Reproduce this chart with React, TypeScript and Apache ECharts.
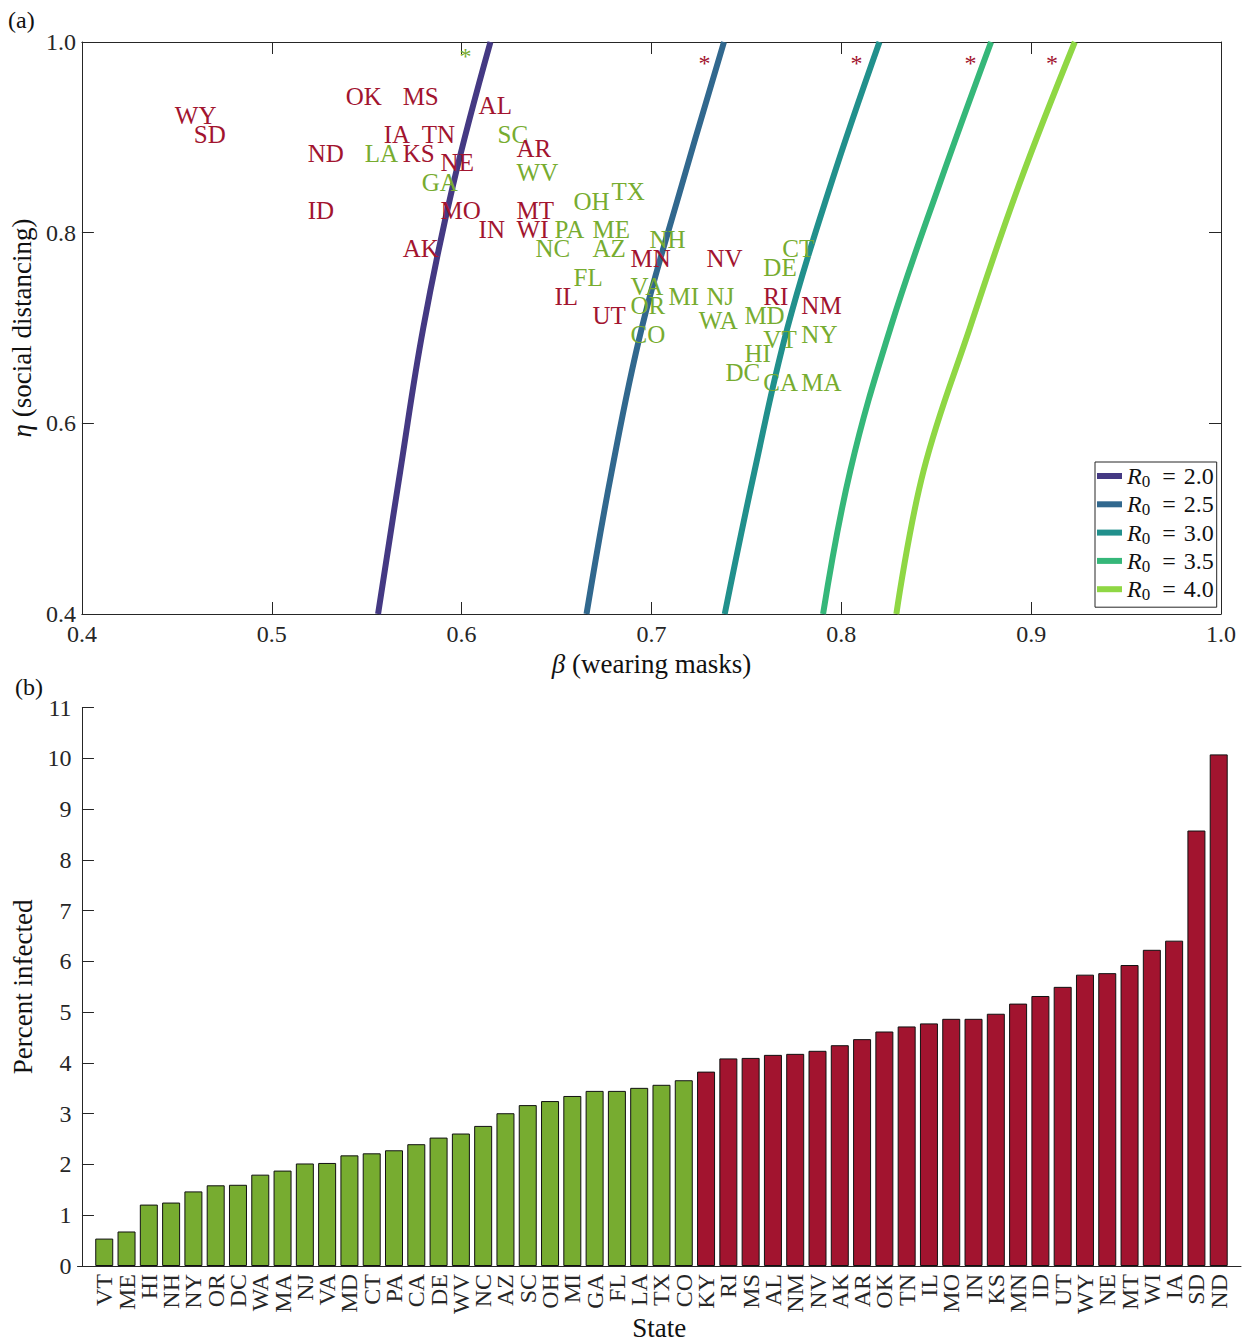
import React, { useEffect, useRef } from 'react';
import * as echarts from 'echarts';

const FONT = '"Liberation Serif", "Times New Roman", serif';
const GREEN = '#77AC30';
const RED = '#A2142F';
const AXIS = '#262626';

// ---- Panel (b): percent infected, sorted ----
const lowStates = ['VT','ME','HI','NH','NY','OR','DC','WA','MA','NJ','VA','MD','CT','PA','CA','DE','WV','NC','AZ','SC','OH','MI','GA','FL','LA','TX','CO'];
const lowInfected = [0.54,0.68,1.21,1.25,1.47,1.59,1.60,1.80,1.88,2.02,2.03,2.18,2.22,2.28,2.40,2.53,2.61,2.76,3.01,3.17,3.25,3.35,3.45,3.45,3.51,3.57,3.66];
const highStates = ['KY','RI','MS','AL','NM','NV','AK','AR','OK','TN','IL','MO','IN','KS','MN','ID','UT','WY','NE','MT','WI','IA','SD','ND'];
const highInfected = [3.83,4.09,4.10,4.16,4.18,4.24,4.35,4.47,4.62,4.72,4.78,4.87,4.87,4.97,5.17,5.32,5.50,5.74,5.77,5.93,6.23,6.41,8.58,10.08];

// ---- Panel (a): state positions (beta = masks, eta = social distancing) ----
const labelStates = ['WY','SD','OK','MS','AL','IA','TN','SC','AR','ND','LA','KS','NE','WV','GA','TX','OH','ID','MO','MT','IN','WI','PA','ME','NH','AK','NC','AZ','CT','MN','NV','DE','FL','VA','IL','MI','NJ','RI','OR','NM','UT','MD','WA','CO','NY','VT','HI','DC','CA','MA'];
const labelBeta = [0.45,0.46,0.54,0.57,0.61,0.56,0.58,0.62,0.63,0.52,0.55,0.57,0.59,0.63,0.58,0.68,0.66,0.52,0.59,0.63,0.61,0.63,0.65,0.67,0.70,0.57,0.64,0.67,0.77,0.69,0.73,0.76,0.66,0.69,0.65,0.71,0.73,0.76,0.69,0.78,0.67,0.75,0.726,0.69,0.78,0.76,0.75,0.74,0.76,0.78];
const labelEta = [0.92,0.90,0.94,0.94,0.93,0.90,0.90,0.90,0.885,0.88,0.88,0.88,0.87,0.86,0.85,0.84,0.83,0.82,0.82,0.82,0.80,0.80,0.80,0.80,0.79,0.78,0.78,0.78,0.78,0.77,0.77,0.76,0.75,0.74,0.73,0.73,0.73,0.73,0.72,0.72,0.71,0.71,0.705,0.69,0.69,0.685,0.67,0.65,0.64,0.64];

// asterisk markers near the top edge
const starBeta = [0.602, 0.728, 0.808, 0.868, 0.911];
const starEta = [0.986, 0.979, 0.979, 0.979, 0.979];
const starIsLow = [true, false, false, false, false];

// ---- R0 threshold curves: [beta, eta] ----
const r0Names = ['R0 = 2.0', 'R0 = 2.5', 'R0 = 3.0', 'R0 = 3.5', 'R0 = 4.0'];
const r0Colors = ['#443983', '#31688E', '#21908C', '#35B779', '#8FD744'];
const curveR20 = [[0.6152,1.0],[0.5955,0.85],[0.5798,0.70],[0.5677,0.55],[0.5560,0.40]];
const curveR25 = [[0.7382,1.0],[0.7160,0.85],[0.6949,0.70],[0.6791,0.55],[0.6658,0.40]];
const curveR30 = [[0.8201,1.0],[0.7944,0.85],[0.7716,0.70],[0.7543,0.55],[0.7386,0.40]];
const curveR35 = [[0.8789,1.0],[0.8516,0.85],[0.8259,0.70],[0.8047,0.55],[0.7904,0.40]];
const curveR40 = [[0.9230,1.0],[0.8936,0.85],[0.8677,0.70],[0.8433,0.55],[0.8290,0.40]];
const curves = [curveR20, curveR25, curveR30, curveR35, curveR40];

const App: React.FC = () => {
  const ref = useRef<HTMLDivElement>(null);

  useEffect(() => {
    document.body.style.margin = '0';
    if (!ref.current) return;
    const chart = echarts.init(ref.current, undefined, { renderer: 'svg' });

    const lowSet = new Set(lowStates);
    const allStates = [...lowStates, ...highStates];
    const barData = [
      ...lowInfected.map((v, i) => ({ value: [i + 1, v], itemStyle: { color: GREEN } })),
      ...highInfected.map((v, i) => ({ value: [lowStates.length + i + 1, v], itemStyle: { color: RED } })),
    ];
    const positions = allStates.map((_, i) => i + 1);

    const tickLabel = { fontFamily: FONT, fontSize: 24, color: AXIS };
    const nameStyle = {
      fontFamily: FONT, fontSize: 27, color: '#111',
      rich: { i: { fontFamily: FONT, fontSize: 27, fontStyle: 'italic', color: '#111' } },
    };
    const axLine = { show: true, lineStyle: { color: AXIS, width: 1 } };
    const tickIn = { show: true, inside: true, length: 12, lineStyle: { color: AXIS, width: 1 } };

    const lineSeries = curves.map((c, k) => ({
      type: 'line', name: r0Names[k], xAxisIndex: 0, yAxisIndex: 0,
      data: c, smooth: 0.4, showSymbol: false, symbol: 'none',
      lineStyle: { width: 6, color: r0Colors[k] }, itemStyle: { color: r0Colors[k] },
      z: 2,
    }));

    const makeLabelSeries = (low: boolean) => ({
      type: 'scatter', xAxisIndex: 0, yAxisIndex: 0, symbolSize: 0, z: 5,
      itemStyle: { opacity: 1 },
      data: labelStates
        .map((s, i) => ({ s, i }))
        .filter(({ s }) => lowSet.has(s) === low)
        .map(({ s, i }) => ({ value: [labelBeta[i], labelEta[i]], name: s })),
      label: {
        show: true, position: 'right', distance: 0, offset: [-2, -3],
        formatter: (p: any) => p.name,
        fontFamily: FONT, fontSize: 25, color: low ? GREEN : RED,
      },
      emphasis: { disabled: true },
    });

    const starSeries = {
      type: 'scatter', xAxisIndex: 0, yAxisIndex: 0, symbolSize: 0, z: 5,
      itemStyle: { opacity: 1 },
      data: starBeta.map((b, i) => ({
        value: [b, starEta[i]],
        label: { color: starIsLow[i] ? GREEN : RED },
      })),
      label: {
        show: true, position: 'inside', formatter: '*', align: 'center', verticalAlign: 'middle',
        offset: [0, 1], fontFamily: FONT, fontSize: 24,
      },
      emphasis: { disabled: true },
    };

    // state names under the bars (rotated), anchored on the x axis of panel (b)
    const stateLabelSeries = {
      type: 'scatter', xAxisIndex: 2, yAxisIndex: 2, symbolSize: 0, z: 5, clip: false,
      itemStyle: { opacity: 1 },
      data: positions.map((p, i) => ({ value: [p, 0], name: allStates[i] })),
      label: {
        show: true, position: 'bottom', distance: 8, rotate: 90,
        align: 'right', verticalAlign: 'middle',
        formatter: (p: any) => p.name,
        ...tickLabel,
      },
      emphasis: { disabled: true },
    };

    chart.setOption({
      animation: false,
      backgroundColor: '#fff',
      grid: [
        { left: 77.5, top: 42, width: 1143.5, height: 572 },
        { left: 77.5, top: 707.7, width: 1163.5, height: 558.3 },
      ],
      legend: {
        data: r0Names, orient: 'vertical', left: 1095, top: 462,
        icon: 'rect', itemWidth: 25, itemHeight: 6, itemGap: 2.3,
        borderColor: AXIS, borderWidth: 1, backgroundColor: '#fff',
        padding: [2, 3, 4, 2],
        formatter: (name: string) => `{r|R}{s|0}{t|\u2002=\u2004${name.split('= ')[1]}}`,
        textStyle: {
          fontFamily: FONT, fontSize: 24, color: '#111',
          rich: {
            r: { fontFamily: FONT, fontSize: 24, fontStyle: 'italic', lineHeight: 28, verticalAlign: 'middle' },
            s: { fontFamily: FONT, fontSize: 17, lineHeight: 28, verticalAlign: 'bottom' },
            t: { fontFamily: FONT, fontSize: 24, lineHeight: 28, verticalAlign: 'middle' },
          },
        },
        selectedMode: false,
      },
      xAxis: [
        {
          gridIndex: 0, type: 'value', min: 0.4, max: 1.0, interval: 0.1, position: 'bottom',
          axisLine: axLine, axisTick: tickIn, splitLine: { show: false },
          axisLabel: { ...tickLabel, margin: 8, formatter: (v: number) => v.toFixed(1) },
          name: '{i|β} (wearing masks)', nameLocation: 'middle', nameGap: 36, nameTextStyle: nameStyle,
        },
        {
          gridIndex: 0, type: 'value', min: 0.4, max: 1.0, interval: 0.1, position: 'top',
          axisLine: axLine, axisTick: tickIn, splitLine: { show: false }, axisLabel: { show: false },
        },
        {
          gridIndex: 1, type: 'value', min: -0.2, max: 52, position: 'bottom',
          axisLine: axLine, splitLine: { show: false },
          axisTick: { ...tickIn, customValues: positions },
          axisLabel: { show: false },
          name: 'State', nameLocation: 'middle', nameGap: 48, nameTextStyle: nameStyle,
        },
      ],
      yAxis: [
        {
          gridIndex: 0, type: 'value', min: 0.4, max: 1.0, interval: 0.2, position: 'left',
          axisLine: axLine, axisTick: tickIn, splitLine: { show: false },
          axisLabel: { ...tickLabel, margin: 6, formatter: (v: number) => v.toFixed(1) },
          name: '{i|η} (social distancing)', nameLocation: 'middle', nameRotate: 90, nameGap: 29,
          nameTextStyle: nameStyle,
        },
        {
          gridIndex: 0, type: 'value', min: 0.4, max: 1.0, interval: 0.2, position: 'right',
          axisLine: axLine, axisTick: tickIn, splitLine: { show: false }, axisLabel: { show: false },
        },
        {
          gridIndex: 1, type: 'value', min: 0, max: 11, interval: 1, position: 'left',
          axisLine: axLine, axisTick: tickIn, splitLine: { show: false },
          axisLabel: { ...tickLabel, margin: 6 },
          name: 'Percent infected', nameLocation: 'middle', nameRotate: 90, nameGap: 29,
          nameTextStyle: nameStyle,
        },
      ],
      graphic: [
        { type: 'text', left: 8, top: 8, style: { text: '(a)', fontFamily: FONT, fontSize: 24, fill: '#111' } },
        { type: 'text', left: 15, top: 675, style: { text: '(b)', fontFamily: FONT, fontSize: 24, fill: '#111' } },
      ],
      series: [
        ...lineSeries,
        makeLabelSeries(true),
        makeLabelSeries(false),
        starSeries,
        {
          type: 'bar', xAxisIndex: 2, yAxisIndex: 2, data: barData, barWidth: 18,
          itemStyle: { borderColor: '#111', borderWidth: 1 },
          emphasis: { disabled: true },
        },
        stateLabelSeries,
      ],
    });

    return () => chart.dispose();
  }, []);

  return <div ref={ref} style={{ width: 1244, height: 1342 }} />;
};

export default App;
